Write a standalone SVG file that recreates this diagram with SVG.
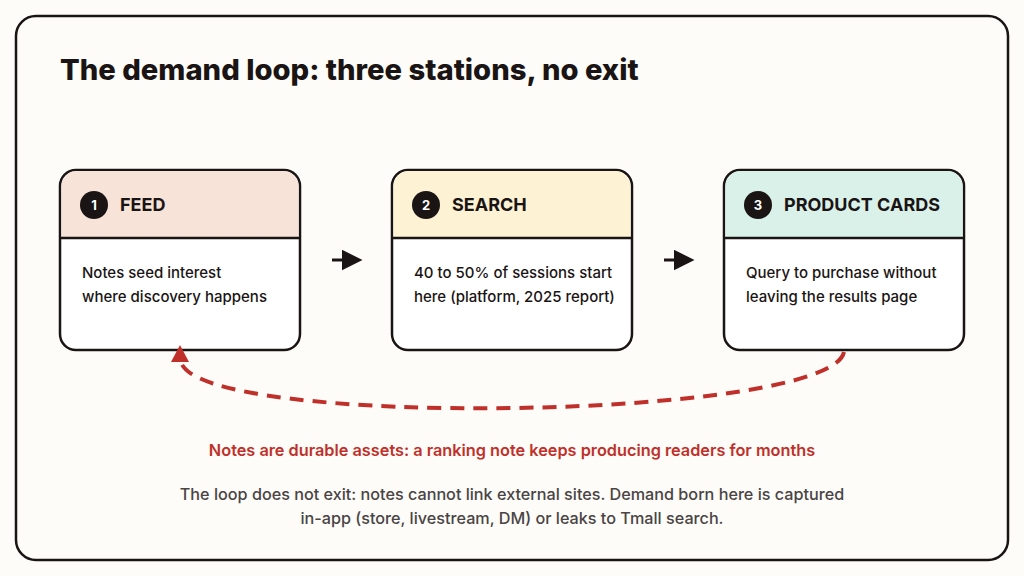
<svg xmlns="http://www.w3.org/2000/svg" width="1024" height="576" viewBox="0 0 1024 576">
<style>
.t{font-family:"Inter","Liberation Sans",sans-serif;fill:#1a1414}
.g{fill:#4a4444}
.h{font-size:18px;font-weight:700}
.b{font-size:15px;font-weight:500}
.box{fill:#fff;stroke:#1a1414;stroke-width:2.5}
.num{font-family:"Inter","Liberation Sans",sans-serif;font-size:13px;font-weight:700;fill:#fff}
</style>
<defs><marker id="ah" viewBox="0 0 10 10" refX="5" refY="5" markerWidth="7" markerHeight="7" orient="auto"><path d="M0,0L10,5L0,10z" fill="#1a1414"/></marker></defs>
<rect width="1024" height="576" fill="#fdfcf8"/>
<rect x="16" y="16" width="992" height="544" rx="20" fill="#fdfcf8" stroke="#1a1414" stroke-width="2.5"/>
<text class="t" x="60" y="80" font-size="29.2" font-weight="800">The demand loop: three stations, no exit</text>
<g id="feed">
<rect class="box" x="60" y="170" width="240" height="180" rx="16"/>
<path d="M61.5,238V186a15,15 0 0 1 15,-15h207a15,15 0 0 1 15,15V238z" fill="#f8e3d9"/>
<line x1="60" y1="238" x2="300" y2="238" stroke="#1a1414" stroke-width="2.5"/>
<circle cx="94" cy="205" r="14" fill="#1a1414"/><text class="num" x="94" y="210" text-anchor="middle">1</text>
<text class="t h" x="120" y="211">FEED</text>
<text class="t b" x="82" y="278">Notes seed interest</text>
<text class="t b" x="82" y="302">where discovery happens</text>
</g>
<g id="search">
<rect class="box" x="392" y="170" width="240" height="180" rx="16"/>
<path d="M393.5,238V186a15,15 0 0 1 15,-15h207a15,15 0 0 1 15,15V238z" fill="#fdf2d3"/>
<line x1="392" y1="238" x2="632" y2="238" stroke="#1a1414" stroke-width="2.5"/>
<circle cx="426" cy="205" r="14" fill="#1a1414"/><text class="num" x="426" y="210" text-anchor="middle">2</text>
<text class="t h" x="452" y="211">SEARCH</text>
<text class="t b" x="414" y="278">40 to 50% of sessions start</text>
<text class="t b" x="414" y="302">here (platform, 2025 report)</text>
</g>
<g id="cards">
<rect class="box" x="724" y="170" width="240" height="180" rx="16"/>
<path d="M725.5,238V186a15,15 0 0 1 15,-15h207a15,15 0 0 1 15,15V238z" fill="#daf1ea"/>
<line x1="724" y1="238" x2="964" y2="238" stroke="#1a1414" stroke-width="2.5"/>
<circle cx="758" cy="205" r="14" fill="#1a1414"/><text class="num" x="758" y="210" text-anchor="middle">3</text>
<text class="t h" x="784" y="211">PRODUCT CARDS</text>
<text class="t b" x="746" y="278">Query to purchase without</text>
<text class="t b" x="746" y="302">leaving the results page</text>
</g>
<g id="connectors">
<line x1="332" y1="260" x2="352" y2="260" stroke="#1a1414" stroke-width="3" marker-end="url(#ah)"/>
<line x1="664" y1="260" x2="684" y2="260" stroke="#1a1414" stroke-width="3" marker-end="url(#ah)"/>
<path d="M844,352C830,420 200,430 181,362" fill="none" stroke="#c0302a" stroke-width="4" stroke-dasharray="14,9"/>
<path d="M171,362L180,345L189,362z" fill="#c0302a"/>
</g>
<text x="512" y="456" text-anchor="middle" font-family="Inter,'Liberation Sans',sans-serif" font-size="16.3" font-weight="600" fill="#c0302a">Notes are durable assets: a ranking note keeps producing readers for months</text>
<text class="t g" x="512" y="500" text-anchor="middle" font-size="16.2" font-weight="500">The loop does not exit: notes cannot link external sites. Demand born here is captured</text>
<text class="t g" x="512" y="524" text-anchor="middle" font-size="16.2" font-weight="500">in-app (store, livestream, DM) or leaks to Tmall search.</text>
</svg>
